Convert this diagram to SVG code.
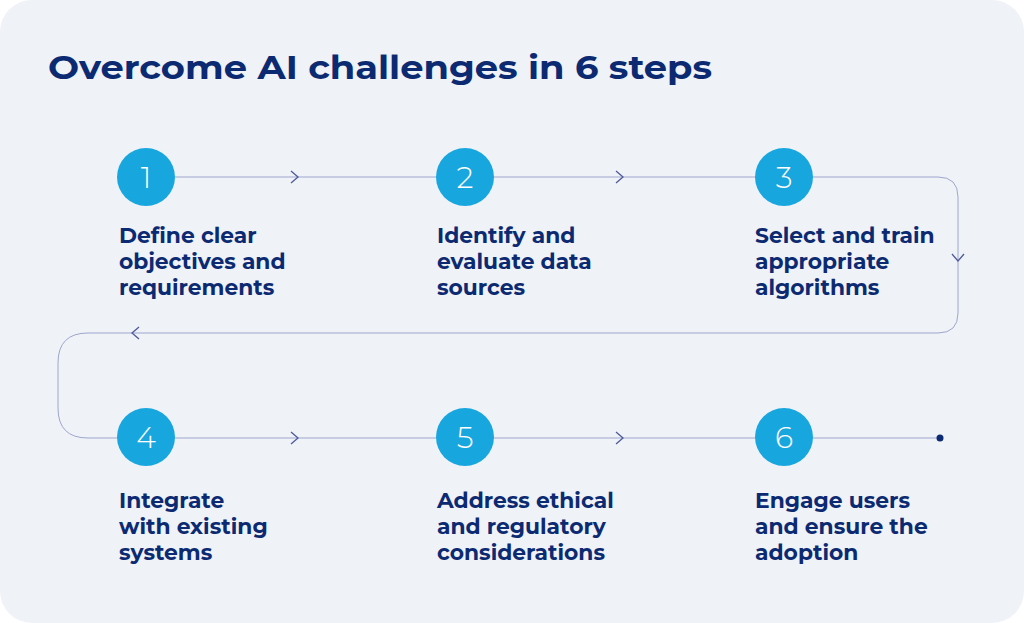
<svg xmlns="http://www.w3.org/2000/svg" width="1024" height="623" viewBox="0 0 1024 623">
<style>
.title{font-family:"Montserrat","Inter","Liberation Sans",sans-serif;font-weight:700;font-size:33px;fill:#0c2a72}
.lbl{font-family:"Montserrat","Inter","Liberation Sans",sans-serif;font-weight:700;font-size:21.8px;fill:#0c2a72}
.num{font-family:"Montserrat","Lato","Open Sans",sans-serif;font-weight:300;font-size:30px;fill:#ffffff}
.circ{fill:#18a6df}
.ln{fill:none;stroke:#9ea6cf;stroke-width:1}
.chev{fill:none;stroke:#4e5a9a;stroke-width:1.3}
</style>
<rect x="0" y="0" width="1024" height="623" fill="#ffffff"/>
<rect x="0" y="0" width="1024" height="623" rx="32" fill="#eff2f7"/>
<text class="title" x="48" y="79" textLength="664" lengthAdjust="spacingAndGlyphs">Overcome AI challenges in 6 steps</text>
<g id="connectors">
<path class="ln" d="M175 177 H938 Q958 177 958 197 V313 Q958 333 938 333 H88 Q58 333 58 363 V408 Q58 438 88 438 H940"/>
<path class="chev" d="M291 171 L298 177 L291 183"/>
<path class="chev" d="M616 171 L623 177 L616 183"/>
<path class="chev" d="M952 254 L958 261 L964 254"/>
<path class="chev" d="M139 327 L132 333 L139 339"/>
<path class="chev" d="M291 432 L298 438 L291 444"/>
<path class="chev" d="M616 432 L623 438 L616 444"/>
<circle cx="940" cy="438" r="3.5" fill="#0c2a72"/>
</g>
<g id="step1">
<circle class="circ" cx="146" cy="177" r="29"/>
<text class="num" x="146" y="188" text-anchor="middle">1</text>
<text class="lbl" x="119" y="243">Define clear</text>
<text class="lbl" x="119" y="269">objectives and</text>
<text class="lbl" x="119" y="295">requirements</text>
</g>
<g id="step2">
<circle class="circ" cx="465" cy="177" r="29"/>
<text class="num" x="465" y="188" text-anchor="middle">2</text>
<text class="lbl" x="437" y="243">Identify and</text>
<text class="lbl" x="437" y="269">evaluate data</text>
<text class="lbl" x="437" y="295">sources</text>
</g>
<g id="step3">
<circle class="circ" cx="784" cy="177" r="29"/>
<text class="num" x="784" y="188" text-anchor="middle">3</text>
<text class="lbl" x="755" y="243">Select and train</text>
<text class="lbl" x="755" y="269">appropriate</text>
<text class="lbl" x="755" y="295">algorithms</text>
</g>
<g id="step4">
<circle class="circ" cx="146" cy="437" r="29"/>
<text class="num" x="146" y="448" text-anchor="middle">4</text>
<text class="lbl" x="119" y="508">Integrate</text>
<text class="lbl" x="119" y="534">with existing</text>
<text class="lbl" x="119" y="560">systems</text>
</g>
<g id="step5">
<circle class="circ" cx="465" cy="437" r="29"/>
<text class="num" x="465" y="448" text-anchor="middle">5</text>
<text class="lbl" x="437" y="508">Address ethical</text>
<text class="lbl" x="437" y="534">and regulatory</text>
<text class="lbl" x="437" y="560">considerations</text>
</g>
<g id="step6">
<circle class="circ" cx="784" cy="437" r="29"/>
<text class="num" x="784" y="448" text-anchor="middle">6</text>
<text class="lbl" x="755" y="508">Engage users</text>
<text class="lbl" x="755" y="534">and ensure the</text>
<text class="lbl" x="755" y="560">adoption</text>
</g>
</svg>
